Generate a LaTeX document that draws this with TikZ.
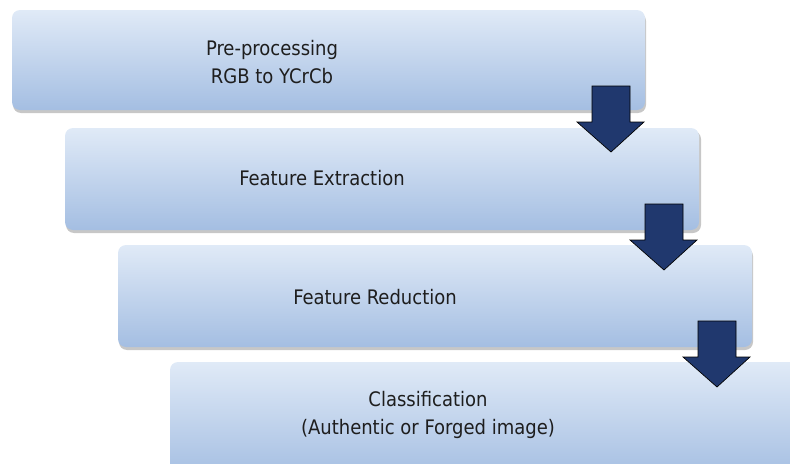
\documentclass[tikz,border=0pt]{standalone}
\usepackage{fontspec}
\setmainfont{DejaVu Sans Condensed}
\definecolor{boxtop}{RGB}{224,234,247}
\definecolor{boxbot}{RGB}{164,190,226}
\definecolor{arrowfill}{RGB}{32,56,110}
\definecolor{txt}{RGB}{30,30,30}
\begin{document}
\begin{tikzpicture}[x=0.75pt,y=-0.75pt,
  stagebox/.style={rounded corners=6pt, top color=boxtop, bottom color=boxbot, draw=none},
  stageshadow/.style={rounded corners=6pt, fill=black, opacity=0.22},
  label/.style={font=\fontsize{15}{20.5}\selectfont, text=txt, align=center, inner sep=0pt},
  downarrow/.style={fill=arrowfill, draw=black, line width=0.5pt, line join=miter}]
\useasboundingbox (0,0) rectangle (790,464);
\clip (0,0) rectangle (790,464);
% shadows
\fill[stageshadow] (13,13) rectangle (646,113);
\fill[stageshadow] (66,131) rectangle (701,233);
\fill[stageshadow] (119,248) rectangle (753,350);
\fill[stageshadow] (171,365) rectangle (810,480);
% boxes
\path[stagebox] (12,10) rectangle (645,110);
\path[stagebox] (65,128) rectangle (699,230);
\path[stagebox] (118,245) rectangle (752,347);
\path[stagebox] (170,362) rectangle (810,478);
% texts
\node[label] (s1) at (272,62) {Pre-processing\\RGB to YCrCb};
\node[label] (s2) at (322,178) {Feature Extraction};
\node[label] (s3) at (375,297) {Feature Reduction};
\node[label] (s4) at (428,415) {Classification\\(Authentic or Forged image)};
% arrows
\foreach \dx/\dy [count=\i] in {0/0, 53/118, 106/235} {
  \begin{scope}[shift={(\dx,\dy)}]
    \draw[downarrow] (592,86) -- (630,86) -- (630,122) -- (644,122) -- (611,152)
      -- (577,122) -- (592,122) -- cycle;
  \end{scope}
}
\end{tikzpicture}
\end{document}
